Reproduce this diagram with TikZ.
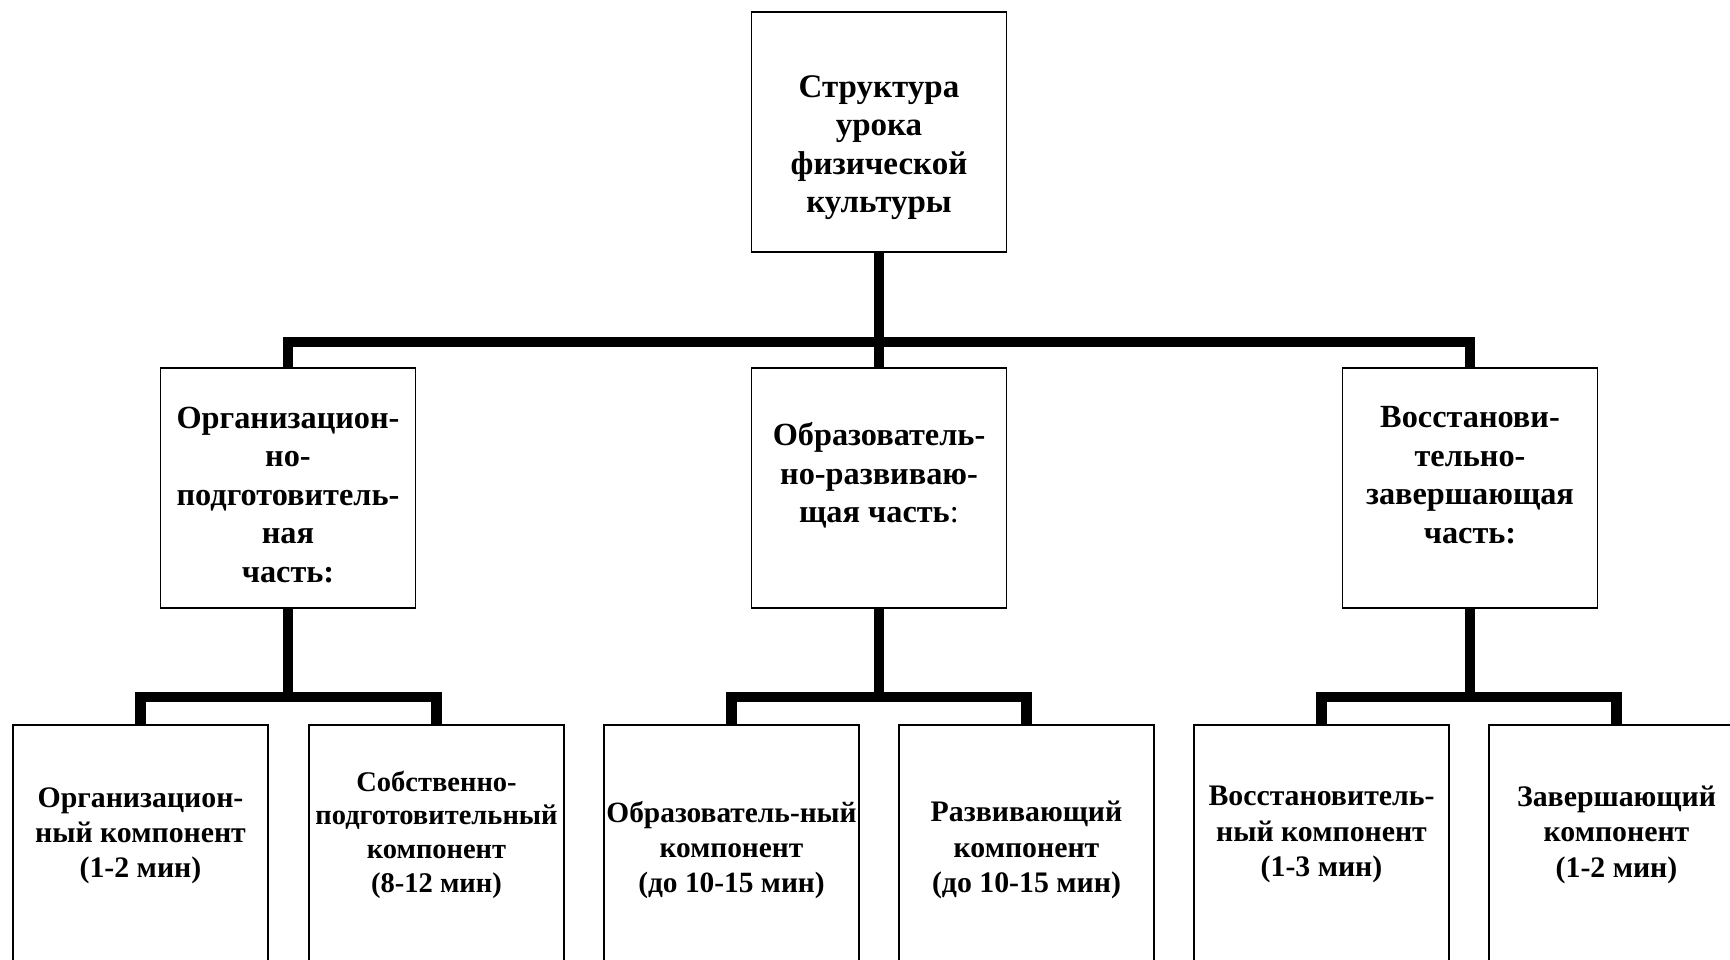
\documentclass[tikz,border=0pt]{standalone}
\usepackage{fontspec}
\setmainfont{Liberation Serif}
\usepackage{tikz}
\usetikzlibrary{positioning}

\tikzset{
  box/.style={draw, line width=1.5pt, minimum width=255, minimum height=240,
    inner sep=0pt, align=center, font=\bfseries\fontsize{32.3}{38.6}\selectfont},
  leaf/.style={box, minimum height=236, font=\bfseries\fontsize{29.8}{35.3}\selectfont},
  link/.style={line width=10.5pt}
}

\begin{document}
\begin{tikzpicture}[x=1pt,y=-1pt]
      \useasboundingbox (0,0) rectangle (1730,959);
      \clip (0,0) rectangle (1730,959);
      % upper levels
      \node[box,font=\bfseries\fontsize{33}{38.6}\selectfont] (root) at (879,132) {\rule{0pt}{53pt}Структура\\урока\\физической\\культуры};
      \node[box] (org) at (288,488) {\rule{0pt}{35pt}Организацион-\\но-\\подготовитель-\\ная\\часть:};
      \node[box] (edu) at (879,488) {Образователь-\\но-развиваю-\\щая часть{\mdseries:}\rule[-31pt]{0pt}{0pt}};
      \node[box] (rec) at (1470,488) {Восстанови-\\тельно-\\завершающая\\часть:\rule[-26pt]{0pt}{0pt}};
      % components
      \node[leaf] (orgA) at (140.5,843) {Организацион-\\ный компонент\\(1-2 мин)\rule[-21pt]{0pt}{0pt}};
      \node[leaf,font=\bfseries\fontsize{28.5}{33.8}\selectfont] (orgB) at (436.5,843) {Собственно-\\подготовительный\\компонент\\(8-12 мин)\rule[-23pt]{0pt}{0pt}};
      \node[leaf,minimum height=250,font=\bfseries\fontsize{29.4}{35.3}\selectfont] (eduA) at (731.5,850) {Образователь-ный\\компонент\\(до 10-15 мин)};
      \node[leaf,minimum height=250] (eduB) at (1026.5,850) {Развивающий\\компонент\\(до 10-15 мин)};
      \node[leaf] (recA) at (1321.5,843) {Восстановитель-\\ный компонент\\(1-3 мин)\rule[-23pt]{0pt}{0pt}};
      \node[leaf] (recB) at (1616.5,843) {Завершающий\\компонент\\(1-2 мин)\rule[-23pt]{0pt}{0pt}};
      \coordinate (top) at (879,342);
      \coordinate (jorg) at (288,697);
      \coordinate (jedu) at (879,697);
      \coordinate (jrec) at (1470,697);
      % connectors
      \draw[link] (root) -- (edu);
      \draw[link] (org.north) |- (top) -| (rec.north);
      \draw[link] (org) -- (jorg);
      \draw[link] (edu) -- (jedu);
      \draw[link] (rec) -- (jrec);
      \draw[link] (orgA.north) |- (jorg) -| (orgB.north);
      \draw[link] (eduA.north) |- (jedu) -| (eduB.north);
      \draw[link] (recA.north) |- (jrec) -| (recB.north);
    \end{tikzpicture}
\end{document}
